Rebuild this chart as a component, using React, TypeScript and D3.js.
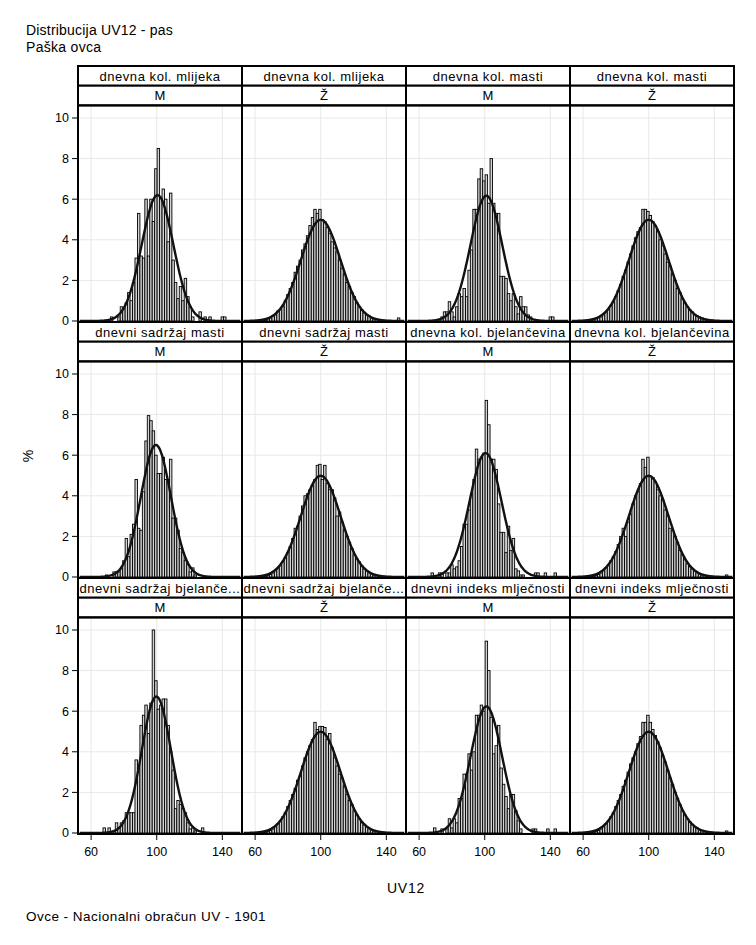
import { useEffect } from "react";
import * as d3 from "d3";

const TITLE_LINES = ["Distribucija UV12 - pas", "Paška ovca"];
const FOOTNOTE = "Ovce - Nacionalni obračun UV - 1901";
const X_LABEL = "UV12";
const Y_LABEL = "%";

const TRAITS = [
  "dnevna kol. mlijeka", "dnevna kol. mlijeka", "dnevna kol. masti", "dnevna kol. masti",
  "dnevni sadržaj masti", "dnevni sadržaj masti", "dnevna kol. bjelančevina", "dnevna kol. bjelančevina",
  "dnevni sadržaj bjelanče...", "dnevni sadržaj bjelanče...", "dnevni indeks mlječnosti", "dnevni indeks mlječnosti",
];
const SEXES = ["M", "Ž", "M", "Ž", "M", "Ž", "M", "Ž", "M", "Ž", "M", "Ž"];

const X_TICKS = [60, 100, 140];
const Y_TICKS = [0, 2, 4, 6, 8, 10];

// histogram bins: start + k * width
const BIN_START = 55.25;
const BIN_WIDTH = 1.5;

// % of animals per bin (bins 0..63)
const milkM = [0,0,0,0,0,0,0,0,0,0, 0,0.2,0,0,0.2,0.7,0.6,0.9,1.4,1.0, 1.9,3.1,5.3,3.2,3.1,6.0,3.2,6.0,4.9,7.5, 8.5,6.1,6.5,6.0,3.9,6.3,3.0,1.9,1.1,1.7, 1.0,2.1,1.2,0.7,0.2,0,0,0.45,0,0.2, 0,0.2,0,0,0,0,0.2,0.2,0,0, 0,0,0,0];
const milkF = [0,0,0,0,0.01,0.02,0.03,0.05,0.1,0.15, 0.25,0.3,0.5,0.55,0.7,1.0,1.3,1.6,1.9,2.4, 2.7,3.0,3.5,3.8,4.2,4.7,5.1,5.5,5.3,5.5, 5.0,4.9,4.6,4.3,3.9,3.6,3.4,3.0,2.6,2.3, 1.9,1.7,1.4,1.2,0.9,0.7,0.55,0.4,0.3,0.25, 0.15,0.1,0.08,0.06,0.04,0.03,0.02,0.01,0.01,0, 0,0.15,0,0];
const fatM = [0,0,0,0,0,0,0,0,0,0, 0,0.1,0.2,0.45,0.45,0.95,0.45,0.2,0.7,1.35, 1.2,1.6,1.2,2.5,3.5,5.5,5.5,7.0,7.5,6.9, 7.2,5.8,8.0,5.8,5.3,5.3,2.2,2.2,2.1,1.35, 1.0,1.35,0.7,0.35,1.2,0.7,0.7,0.3,0.2,0, 0,0,0,0,0,0,0.2,0.2,0,0, 0,0,0,0];
const fatF = [0,0,0,0,0.01,0.02,0.04,0.06,0.1,0.15, 0.2,0.3,0.4,0.55,0.75,0.9,1.2,1.5,1.8,2.2, 2.5,2.9,3.3,3.7,4.1,4.4,4.6,5.5,5.5,5.4, 5.2,4.9,4.7,4.4,4.0,3.7,3.3,2.9,2.7,2.3, 2.0,1.6,1.4,1.1,0.9,0.7,0.55,0.45,0.3,0.25, 0.2,0.15,0.1,0.08,0.06,0.04,0.03,0.02,0.02,0.01, 0.01,0,0,0];
const fatPctM = [0,0,0,0,0,0,0,0,0,0.1, 0,0,0.25,0.25,0.25,0.4,0.8,1.9,1.0,2.1, 2.6,4.8,2.4,2.3,4.2,6.7,7.95,7.7,7.2,6.0, 5.1,5.1,5.9,4.8,4.8,5.8,2.9,2.9,2.3,1.4, 1.2,0.8,0.6,0.25,0.45,0.1,0,0,0,0, 0,0,0,0,0,0,0,0,0,0, 0,0,0,0];
const fatPctF = [0,0,0,0,0,0.01,0.03,0.05,0.08,0.12, 0.2,0.3,0.4,0.55,0.75,0.95,1.2,1.5,1.9,2.4, 2.5,3.0,3.5,4.0,4.1,4.3,4.5,4.8,5.5,5.55, 4.8,5.5,4.6,4.3,4.3,3.9,3.0,3.2,2.7,2.3, 2.0,1.7,1.4,1.1,0.9,0.75,0.55,0.4,0.3,0.2, 0.15,0.1,0.08,0.05,0.04,0.03,0.02,0.01,0.01,0.01, 0,0,0,0];
const protM = [0,0,0,0,0,0,0,0,0.2,0, 0,0.2,0.2,0,0.2,0.2,0.6,0.4,0.5,0.8, 1.5,2.6,2.6,3.3,4.1,4.8,6.3,5.8,5.9,6.1, 8.7,7.5,5.8,5.8,5.3,3.6,2.2,2.2,1.2,2.5, 1.3,1.9,0.4,0.3,0.1,0.1,0,0,0,0, 0.2,0.2,0,0,0.2,0,0,0,0.2,0, 0,0,0,0];
const protF = [0,0,0,0,0.01,0.02,0.03,0.05,0.08,0.12, 0.2,0.3,0.45,0.6,0.8,1.0,1.25,1.6,2.0,2.4, 2.0,2.7,3.1,3.6,4.0,4.2,4.6,5.8,5.4,5.9, 4.95,4.9,4.7,4.3,4.0,3.8,3.3,3.0,2.4,2.3, 2.0,1.7,1.3,1.1,0.85,0.65,0.5,0.4,0.3,0.2, 0.15,0.1,0.08,0.05,0.04,0.03,0.02,0.01,0.01,0.01, 0,0.1,0,0];
const protPctM = [0,0,0,0,0,0,0,0,0.25,0, 0.25,0,0.1,0.5,0.25,0.5,0.6,1.0,1.0,1.0, 1.0,3.6,3.2,5.3,5.8,6.3,4.9,6.4,10.0,7.5, 6.1,6.3,6.6,6.6,5.3,4.0,3.1,1.2,1.6,1.4, 1.2,1.0,0.5,0.2,0.25,0.1,0,0,0.25,0, 0,0,0,0,0,0,0,0,0,0, 0,0,0,0];
const protPctF = [0,0,0,0,0.01,0.02,0.03,0.05,0.08,0.12, 0.2,0.3,0.45,0.6,0.8,1.0,1.3,1.6,1.9,2.2, 2.6,2.8,3.3,3.7,4.0,4.3,4.6,5.45,5.1,5.25, 5.25,5.2,4.6,4.9,4.2,3.7,3.3,2.9,2.7,2.3, 1.9,1.6,1.4,1.1,0.9,0.7,0.5,0.4,0.3,0.2, 0.15,0.1,0.07,0.05,0.04,0.03,0.02,0.01,0.01,0, 0,0,0,0];
const indexM = [0,0,0,0,0,0,0,0,0,0.25, 0,0,0.2,0,0.2,0.7,0.25,0.7,0.5,1.7, 1.7,2.9,2.9,3.9,3.1,4.0,5.8,5.8,6.3,6.0, 9.45,8.0,5.7,3.9,4.3,5.3,3.2,2.4,1.8,1.2, 1.9,1.9,1.1,0.6,0.2,0,0,0,0,0.2, 0.2,0,0,0,0,0.2,0,0,0.2,0, 0,0,0,0];
const indexF = [0,0,0,0,0.01,0.02,0.03,0.05,0.08,0.12, 0.2,0.3,0.45,0.6,0.8,1.0,1.3,1.6,1.9,2.3, 2.6,3.0,3.4,3.7,4.0,4.4,4.75,5.45,5.45,5.8, 5.45,5.1,4.8,4.5,4.2,3.8,3.5,3.1,2.7,2.4, 2.0,1.7,1.4,1.1,0.9,0.7,0.55,0.4,0.3,0.25, 0.15,0.12,0.08,0.06,0.04,0.03,0.02,0.01,0.01,0.01, 0,0.1,0,0];

const PANEL_BARS = [milkM, milkF, fatM, fatF, fatPctM, fatPctF, protM, protF, protPctM, protPctF, indexM, indexF];

// fitted normal density per panel
const CURVE_MEAN = [100.5, 100, 101, 100, 99.5, 100, 100.5, 100, 99.8, 100, 101, 100];
const CURVE_SD = [9.65, 12, 9.7, 12, 9.2, 12, 9.8, 12, 8.9, 12, 9.6, 12];

const W = 756;
const H = 945;
const FONT = "'Liberation Sans', Arial, Helvetica, sans-serif";

function Panel({ idx, left, top }: { idx: number; left: number; top: number }) {
  const colW = 164;
  const stripH = 19.7;
  const plotTop = top + stripH * 2;
  const plotBottom = top + 256;

  const x = d3.scaleLinear().domain([52, 152]).range([left, left + colW]);
  const y = d3.scaleLinear().domain([-0.05, 10.62]).range([plotBottom, plotTop]);

  const bars = PANEL_BARS[idx];
  const mu = CURVE_MEAN[idx];
  const sd = CURVE_SD[idx];
  const xs = d3.range(53, 151.01, 0.5);
  const curve = xs.map((v) => [v, (BIN_WIDTH * 100 * Math.exp(-0.5 * ((v - mu) / sd) ** 2)) / (sd * Math.sqrt(2 * Math.PI))] as [number, number]);
  const line = d3.line<[number, number]>().x((d) => x(d[0])).y((d) => y(d[1])).curve(d3.curveBasis);

  return (
    <g>
      <rect x={left} y={plotTop} width={colW} height={plotBottom - plotTop} fill="#fff" />
      {Y_TICKS.map((t) => (
        <line key={"gy" + t} x1={left} x2={left + colW} y1={y(t)} y2={y(t)} stroke="#e8e8e8" strokeWidth={1} />
      ))}
      {X_TICKS.map((t) => (
        <line key={"gx" + t} x1={x(t)} x2={x(t)} y1={plotTop} y2={plotBottom} stroke="#e8e8e8" strokeWidth={1} />
      ))}
      {bars.map((v, k) =>
        v > 0 ? (
          <rect
            key={k}
            x={x(BIN_START + k * BIN_WIDTH)}
            y={y(v)}
            width={x(BIN_START + BIN_WIDTH) - x(BIN_START)}
            height={y(0) - y(v)}
            fill="#d3d3d3"
            stroke="#000"
            strokeWidth={0.9}
          />
        ) : null
      )}
      <path d={line(curve) || ""} fill="none" stroke="#111" strokeWidth={2.4} />
      {/* strips */}
      <rect x={left} y={top} width={colW} height={stripH} fill="#fff" stroke="#000" strokeWidth={2} />
      <rect x={left} y={top + stripH} width={colW} height={stripH} fill="#fff" stroke="#000" strokeWidth={2} />
      <text x={left + colW / 2} y={top + 14.5} textAnchor="middle" fontSize={13} letterSpacing={0.55}>{TRAITS[idx]}</text>
      <text x={left + colW / 2} y={top + stripH + 14.5} textAnchor="middle" fontSize={13}>{SEXES[idx]}</text>
      <rect x={left} y={plotTop} width={colW} height={plotBottom - plotTop} fill="none" stroke="#000" strokeWidth={2} />
    </g>
  );
}

export default function App() {
  useEffect(() => {
    document.body.style.margin = "0";
  }, []);

  const left0 = 78;
  const top0 = 66;
  const colW = 164;
  const rowH = 256;
  const yAxis = d3.scaleLinear().domain([-0.05, 10.62]).range([top0 + rowH, top0 + 39.4]);
  const bottom = top0 + rowH * 3;

  return (
    <svg width={W} height={H} style={{ display: "block", background: "#fff" }} fontFamily={FONT} fill="#000">
      <text x={26} y={35} fontSize={14} letterSpacing={0.2}>{TITLE_LINES[0]}</text>
      <text x={26} y={52} fontSize={14} letterSpacing={0.3}>{TITLE_LINES[1]}</text>

      {d3.range(12).map((i) => (
        <Panel key={i} idx={i} left={left0 + (i % 4) * colW} top={top0 + Math.floor(i / 4) * rowH} />
      ))}

      {/* y axes, one per row */}
      {d3.range(3).map((r) => (
        <g key={"ya" + r} transform={`translate(0,${r * rowH})`}>
          {Y_TICKS.map((t) => (
            <g key={t}>
              <line x1={left0 - 6} x2={left0} y1={yAxis(t)} y2={yAxis(t)} stroke="#000" strokeWidth={1} />
              <text x={left0 - 9} y={yAxis(t) + 4.5} textAnchor="end" fontSize={12.5}>{t}</text>
            </g>
          ))}
        </g>
      ))}

      {/* x axes under last row */}
      {d3.range(4).map((c) => {
        const x = d3.scaleLinear().domain([52, 152]).range([left0 + c * colW, left0 + (c + 1) * colW]);
        return (
          <g key={"xa" + c}>
            {X_TICKS.map((t) => (
              <g key={t}>
                <line x1={x(t)} x2={x(t)} y1={bottom} y2={bottom + 6} stroke="#000" strokeWidth={1} />
                <text x={x(t)} y={bottom + 22} textAnchor="middle" fontSize={12.5}>{t}</text>
              </g>
            ))}
          </g>
        );
      })}

      <text x={left0 + colW * 2} y={893} textAnchor="middle" fontSize={14} letterSpacing={0.8}>{X_LABEL}</text>
      <text transform={`translate(33,${top0 + rowH * 1.5 + 6}) rotate(-90)`} textAnchor="middle" fontSize={14}>{Y_LABEL}</text>
      <text x={26} y={921} fontSize={13.5} letterSpacing={0.47}>{FOOTNOTE}</text>
    </svg>
  );
}
